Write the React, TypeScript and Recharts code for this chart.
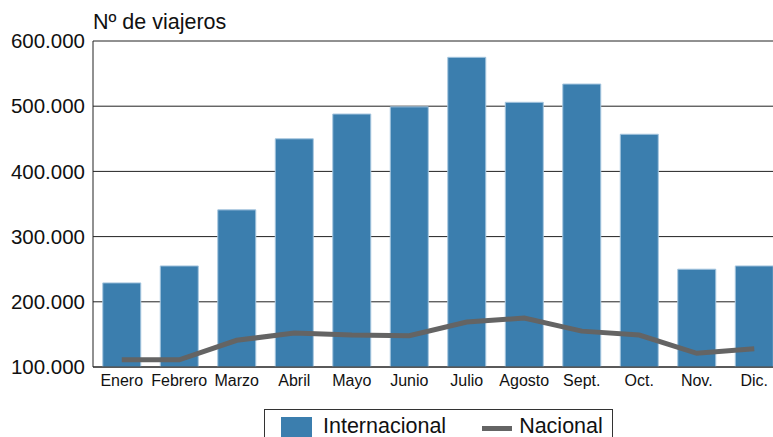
import {
  ComposedChart,
  Bar,
  Line,
  XAxis,
  YAxis,
  CartesianGrid,
  Legend,
} from "recharts";

const months = ["Enero", "Febrero", "Marzo", "Abril", "Mayo", "Junio", "Julio", "Agosto", "Sept.", "Oct.", "Nov.", "Dic."];
const internacional = [229000, 255000, 341000, 450000, 488000, 499000, 575000, 506000, 534000, 457000, 250000, 255000];
const nacional = [111000, 111000, 141000, 152000, 149000, 148000, 169000, 175000, 155000, 149000, 121000, 128000];
const yTicks = [100000, 200000, 300000, 400000, 500000, 600000];

const data = months.map((name, i) => ({
  name,
  internacional: internacional[i],
  nacional: nacional[i],
}));

const BAR = "#3b7eae";
const LINE = "#646464";
const FONT = "'Liberation Sans', Arial, Helvetica, sans-serif";

// 600000 -> "600.000"
const fmt = (v: number) => String(v).replace(/\B(?=(\d{3})+(?!\d))/g, ".");

const LegendBox = () => (
  <div
    style={{
      border: "1px solid #333",
      height: 40,
      display: "flex",
      alignItems: "flex-start",
      paddingTop: 4,
      boxSizing: "border-box",
      fontFamily: FONT,
      fontSize: 21.5,
      color: "#111",
    }}
  >
    <span style={{ display: "inline-block", width: 31, height: 20, background: BAR, marginLeft: 16, marginTop: 3 }} />
    <span style={{ marginLeft: 11 }}>Internacional</span>
    <span style={{ display: "inline-block", width: 30, height: 5, background: LINE, marginLeft: 36, marginTop: 12 }} />
    <span style={{ marginLeft: 7 }}>Nacional</span>
  </div>
);

export default function App() {
  return (
    <div style={{ position: "fixed", left: 0, top: 0, width: 773, height: 437, overflow: "hidden", background: "#fff" }}>
      <div style={{ position: "absolute", left: 93, top: 10, fontFamily: FONT, fontSize: 21.5, color: "#111" }}>
        Nº de viajeros
      </div>
      <ComposedChart
        width={790}
        height={437}
        data={data}
        margin={{ top: 41, right: 7, left: 0, bottom: 40 }}
        barCategoryGap="17%"
      >
        <CartesianGrid vertical={false} stroke="#222" strokeOpacity={1} />
        <XAxis
          dataKey="name"
          tickLine={false}
          axisLine={{ stroke: "#222" }}
          height={30}
          interval={0}
          tick={{ fill: "#111", fontSize: 16, fontFamily: FONT }}
        />
        <YAxis
          domain={[100000, 600000]}
          ticks={yTicks}
          allowDataOverflow
          width={93}
          tickLine={false}
          axisLine={{ stroke: "#222" }}
          tickMargin={2}
          tickFormatter={fmt}
          tick={{ fill: "#111", fontSize: 20.5, fontFamily: FONT }}
        />
        <Bar
          dataKey="internacional"
          name="Internacional"
          fill={BAR}
          stroke="#a6c6df"
          strokeWidth={1}
          isAnimationActive={false}
        />
        <Line
          dataKey="nacional"
          name="Nacional"
          type="linear"
          stroke={LINE}
          strokeWidth={5}
          dot={false}
          activeDot={false}
          isAnimationActive={false}
        />
        <Legend
          layout="horizontal"
          verticalAlign="middle"
          content={() => <LegendBox />}
          wrapperStyle={{ left: 264, top: 409, width: 349, height: 40 }}
        />
      </ComposedChart>
    </div>
  );
}
